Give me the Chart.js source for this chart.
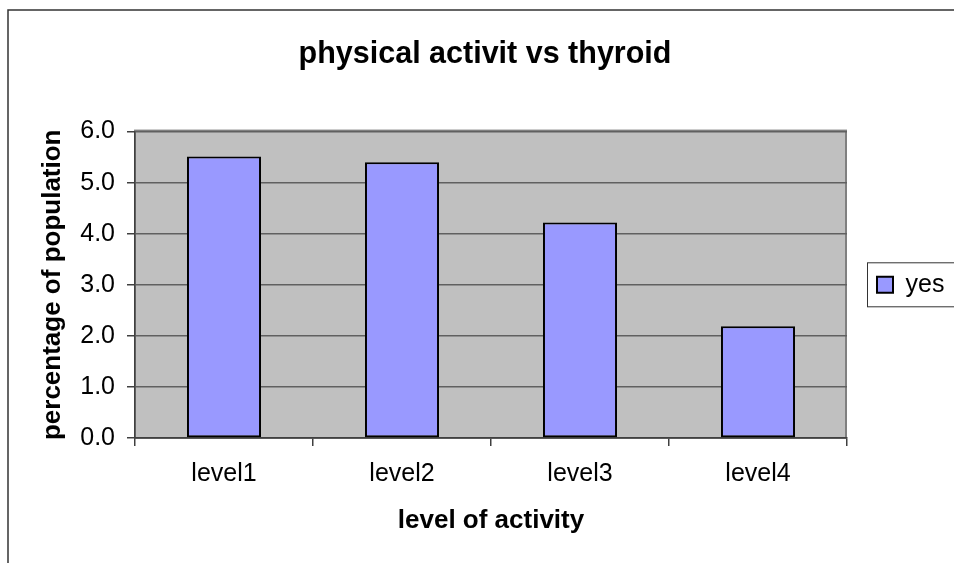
<!DOCTYPE html>
<html>
<head>
<meta charset="utf-8">
<title>physical activit vs thyroid</title>
<script src="https://cdn.jsdelivr.net/npm/chart.js@4.4.0/dist/chart.umd.min.js"></script>
<style>
  html, body { margin: 0; padding: 0; background: #fff; }
  canvas { display: block; }
</style>
</head>
<body>
<canvas id="activityChart" width="954" height="563"></canvas>
<script>
// data
const categories = ['level1', 'level2', 'level3', 'level4'];
const yesValues = [5.51, 5.40, 4.22, 2.19];
const yTicks = [0, 1, 2, 3, 4, 5, 6];
const seriesName = 'yes';

Chart.defaults.font.family = 'Arial, "Liberation Sans", sans-serif';
Chart.defaults.color = '#000';

// white page, outer chart frame, grey plot area
const chartFrame = {
    id: 'chartFrame',
    beforeDraw(chart) {
        const ctx = chart.ctx;
        const a = chart.chartArea;
        ctx.save();
        ctx.fillStyle = '#fff';
        ctx.fillRect(0, 0, chart.width, chart.height);

        ctx.strokeStyle = '#333';
        ctx.lineWidth = 1.5;
        ctx.beginPath();
        ctx.moveTo(8, chart.height + 2);
        ctx.lineTo(8, 10);
        ctx.lineTo(chart.width + 2, 10);
        ctx.stroke();

        ctx.fillStyle = '#c0c0c0';
        ctx.fillRect(a.left, a.top, a.right - a.left, a.bottom - a.top);
        ctx.strokeStyle = '#808080';
        ctx.lineWidth = 2;
        ctx.strokeRect(a.left, a.top - 1, a.right - a.left - 1, a.bottom - a.top + 1);
        ctx.restore();
    }
};

// keep the legend column a fixed width, and box it like the original
const legendBox = {
    id: 'legendBox',
    beforeInit(chart) {
        const fit = chart.legend.fit;
        chart.legend.fit = function () {
            fit.call(this);
            this.width = 107;
        };
    },
    afterDraw(chart) {
        const lg = chart.legend;
        const ctx = chart.ctx;
        const mid = (lg.top + lg.bottom) / 2;
        ctx.save();
        ctx.strokeStyle = '#333';
        ctx.lineWidth = 1;
        ctx.strokeRect(lg.left + 20.5, mid - 22, 120, 44);
        ctx.restore();
    }
};

const ctx = document.getElementById('activityChart').getContext('2d');
const activityChart = new Chart(ctx, {
    type: 'bar',
    data: {
        labels: categories,
        datasets: [{
            label: seriesName,
            data: yesValues,
            backgroundColor: '#9999ff',
            borderColor: '#000',
            borderWidth: 2,
            borderSkipped: false,
            barPercentage: 0.416,
            categoryPercentage: 1
        }]
    },
    options: {
        responsive: false,
        animation: false,
        layout: {
            padding: { left: 16, right: 0, top: 0, bottom: 0 }
        },
        plugins: {
            title: {
                display: true,
                text: 'physical activit vs thyroid',
                font: { size: 30.5, weight: 'bold' },
                color: '#000',
                padding: { top: 36, bottom: 59 }
            },
            legend: {
                position: 'right',
                fullSize: false,
                labels: {
                    boxWidth: 16,
                    boxHeight: 16,
                    padding: 30,
                    font: { size: 25 },
                    color: '#000'
                }
            },
            tooltip: { enabled: false }
        },
        scales: {
            x: {
                afterFit(scale) { scale.height = 125; },
                grid: {
                    drawOnChartArea: false,
                    tickLength: 8,
                    color: '#404040',
                    lineWidth: 1.5
                },
                border: { color: '#404040', width: 1.5 },
                ticks: { font: { size: 25 }, padding: 13, color: '#000' },
                title: {
                    display: true,
                    text: 'level of activity',
                    font: { size: 26, weight: 'bold' },
                    color: '#000',
                    padding: { top: 0, bottom: 27 }
                }
            },
            y: {
                min: 0,
                max: 6,
                afterFit(scale) { scale.width = 119; },
                afterBuildTicks(scale) {
                    scale.ticks = yTicks.map(v => ({ value: v }));
                },
                grid: {
                    color: '#606060',
                    lineWidth: 1.5,
                    tickLength: 8,
                    tickColor: '#404040'
                },
                border: { color: '#404040', width: 1.5 },
                ticks: {
                    font: { size: 25 },
                    padding: 12,
                    color: '#000',
                    callback: v => v.toFixed(1)
                },
                title: {
                    display: true,
                    text: 'percentage of population',
                    font: { size: 26, weight: 'bold' },
                    color: '#000',
                    padding: { top: 21, bottom: 0 }
                }
            }
        }
    },
    plugins: [chartFrame, legendBox]
});
</script>
</body>
</html>
